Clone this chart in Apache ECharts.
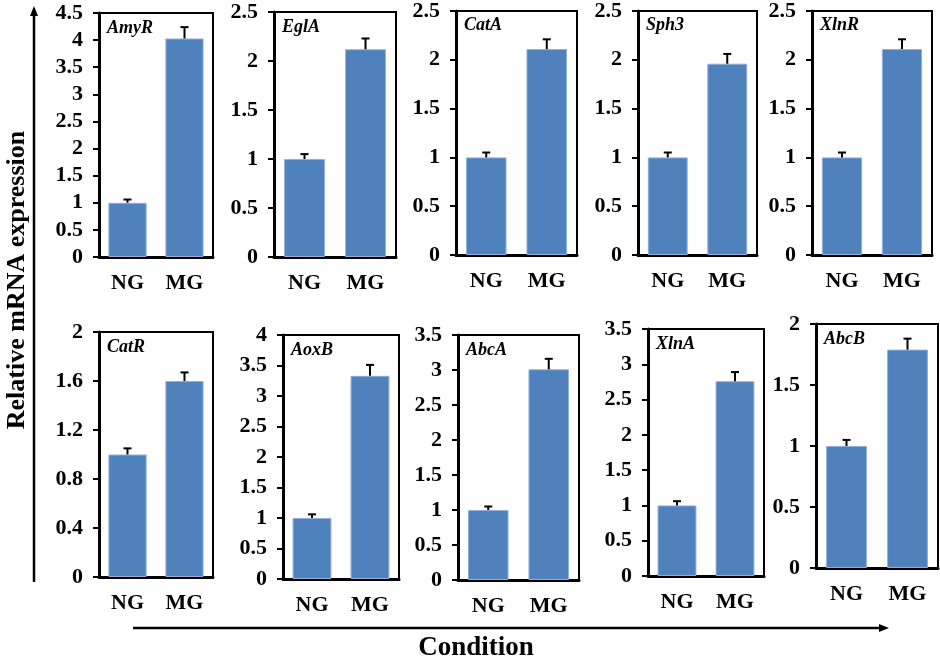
<!DOCTYPE html>
<html><head><meta charset="utf-8">
<script src="https://cdn.jsdelivr.net/npm/echarts/dist/echarts.min.js"></script>
<style>html,body{margin:0;padding:0;background:#fff}#c{width:940px;height:660px}</style>
</head><body><div id="c"></div>
<script>
const genes = ['AmyR','EglA','CatA','Sph3','XlnR','CatR','AoxB','AbcA','XlnA','AbcB'];
const categories = ['NG','MG'];
const ngValues = [1.00,1.00,1.00,1.00,1.00,1.00,1.00,1.00,1.00,1.00];
const ngErrors = [0.06,0.05,0.05,0.05,0.05,0.05,0.06,0.05,0.06,0.05];
const mgValues = [4.03,2.12,2.11,1.96,2.11,1.60,3.33,3.01,2.76,1.79];
const mgErrors = [0.21,0.11,0.10,0.10,0.10,0.07,0.18,0.15,0.13,0.09];
const yMax = [4.5,2.5,2.5,2.5,2.5,2,4,3.5,3.5,2];
const yInterval = [0.5,0.5,0.5,0.5,0.5,0.4,0.5,0.5,0.5,0.5];
const yTitle = 'Relative mRNA expression';
const xTitle = 'Condition';

// layout: [left, top, width, height]
const boxes = [
  [99,13,114,244],[274,12,122,245],[456,10,121,245],[638,10,119,245],[812,10,120,245],
  [99,332,114,245],[283,335,116,244],[458,335,121,245],[648,329,116,247],[816,324,122,244]
];
const FONT = '"Liberation Serif","Times New Roman",serif';

const grid=[], xAxis=[], yAxis=[], series=[], title=[];
genes.forEach((g,i)=>{
  const b = boxes[i];
  grid.push({left:b[0], top:b[1], width:b[2], height:b[3], show:true, borderColor:'#000', borderWidth:2, containLabel:false});
  xAxis.push({type:'category', gridIndex:i, data:categories,
    axisLine:{lineStyle:{color:'#000', width:3}}, axisTick:{show:false},
    axisLabel:{color:'#000', fontFamily:FONT, fontWeight:'bold', fontSize:22, margin:15}});
  yAxis.push({type:'value', gridIndex:i, min:0, max:yMax[i], interval:yInterval[i],
    splitLine:{show:false},
    axisLine:{show:true, lineStyle:{color:'#000', width:3}},
    axisTick:{show:true, length:6, lineStyle:{color:'#000', width:2}},
    axisLabel:{color:'#000', fontFamily:FONT, fontWeight:'bold', fontSize:22, margin:16}});
  title.push({text:g, left:b[0]+3, top:b[1]+1,
    textStyle:{fontFamily:FONT, fontStyle:'italic', fontWeight:'bold', fontSize:18, color:'#000'}});
  series.push({type:'bar', xAxisIndex:i, yAxisIndex:i, barWidth:'67%',
    data:[ngValues[i], mgValues[i]],
    itemStyle:{color:'#4F81BD', borderColor:'#8FB0DA', borderWidth:1}});
  series.push({type:'custom', xAxisIndex:i, yAxisIndex:i, z:5,
    data:[[0, ngValues[i], ngErrors[i]],[1, mgValues[i], mgErrors[i]]],
    renderItem:function(params, api){
      const x=api.value(0), v=api.value(1), e=api.value(2);
      const p0=api.coord([x,v]), p1=api.coord([x,v+e]);
      const hw=4;
      return {type:'group', children:[
        {type:'line', shape:{x1:p0[0],y1:p0[1],x2:p1[0],y2:p1[1]}, style:{stroke:'#000',lineWidth:2}},
        {type:'line', shape:{x1:p1[0]-hw,y1:p1[1],x2:p1[0]+hw,y2:p1[1]}, style:{stroke:'#000',lineWidth:2}}
      ]};
    }});
});

const graphic = [
  {type:'line', shape:{x1:34,y1:14,x2:34,y2:582}, style:{stroke:'#000', lineWidth:2.5}},
  {type:'polygon', shape:{points:[[34,6],[30,16],[38,16]]}, style:{fill:'#000'}},
  {type:'line', shape:{x1:133,y1:628,x2:880,y2:628}, style:{stroke:'#000', lineWidth:2.5}},
  {type:'polygon', shape:{points:[[889,628],[879,624],[879,632]]}, style:{fill:'#000'}},
  {type:'text', x:17, y:280, rotation:Math.PI/2,
    style:{text:yTitle, fontFamily:FONT, fontWeight:'bold', fontSize:26, fill:'#000', textAlign:'center', textVerticalAlign:'middle'}},
  {type:'text', x:476, y:648,
    style:{text:xTitle, fontFamily:FONT, fontWeight:'bold', fontSize:27, fill:'#000', textAlign:'center', textVerticalAlign:'middle'}}
];

const chart = echarts.init(document.getElementById('c'), null, {renderer:'canvas'});
chart.setOption({animation:false, backgroundColor:'#fff', title, grid, xAxis, yAxis, series, graphic});
</script>
</body></html>
